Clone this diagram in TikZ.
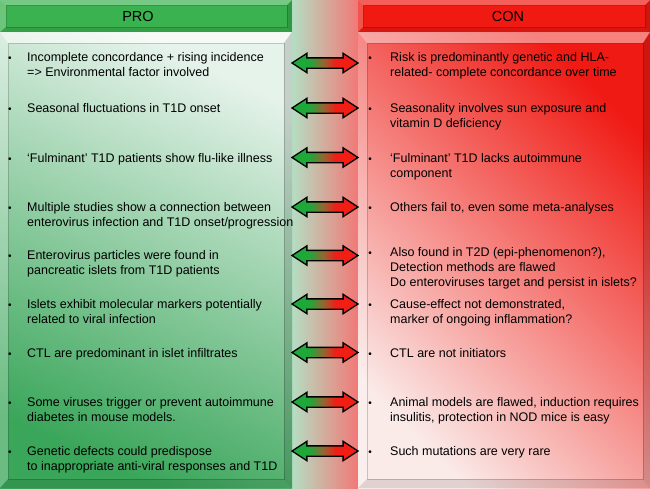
\documentclass[tikz,border=0pt]{standalone}
\usepackage{fontspec}
\setmainfont{Liberation Sans}
\usetikzlibrary{shapes.arrows}
\definecolor{hg}{RGB}{58,178,80}
\definecolor{hr}{RGB}{240,26,18}
\definecolor{lgA}{RGB}{230,243,235}
\definecolor{lgB}{RGB}{58,166,90}
\definecolor{rdA}{RGB}{240,26,20}
\definecolor{rdM}{RGB}{243,84,78}
\definecolor{rdB}{RGB}{250,234,232}
\definecolor{cA}{RGB}{180,222,194}
\definecolor{cM}{RGB}{246,240,238}
\definecolor{cB}{RGB}{242,120,118}
\definecolor{agr}{RGB}{30,168,58}
\definecolor{abr}{RGB}{150,100,50}
\definecolor{ard}{RGB}{240,30,20}
\pgfdeclarehorizontalshading{arrsh}{100bp}{color(0bp)=(agr); color(38bp)=(agr); color(49bp)=(abr); color(58bp)=(ard); color(100bp)=(ard)}
\newcommand\tlines[1]{\vtop{\halign{##\hfil\cr #1\crcr}}}
\newcommand\bevelframe[9]{%
  \fill[white,opacity=#9] (#1,#2) -- (#3,#2) -- (#7,#6) -- (#5,#6) -- cycle;
  \fill[white,opacity=0.25] (#1,#2) -- (#5,#6) -- (#5,#8) -- (#1,#4) -- cycle;
  \fill[black,opacity=0.10] (#1,#4) -- (#5,#8) -- (#7,#8) -- (#3,#4) -- cycle;
  \fill[black,opacity=0.14] (#3,#2) -- (#3,#4) -- (#7,#8) -- (#7,#6) -- cycle;
  \draw[black,opacity=0.18,line width=0.6pt] (#5,#6) rectangle (#7,#8);
}
\begin{document}
\begin{tikzpicture}[x=1pt,y=-1pt,
  tx/.style={anchor=base west, inner sep=0pt, font=\fontsize{12.5}{15}\selectfont, text=black},
  bul/.style={anchor=base, inner sep=0pt, font=\fontsize{10}{15}\selectfont, text=black},
  hd/.style={anchor=base, inner sep=0pt, font=\fontsize{14.5}{17}\selectfont, text=black},
  dbl/.style={double arrow, draw=black, line width=1.3pt, minimum height=66pt,
    inner xsep=0pt, inner ysep=4.5pt, double arrow head extend=4.5pt,
    double arrow tip angle=66, shade, shading=arrsh}]
\useasboundingbox (0,0) rectangle (650,488);
% centre strip
\shade[left color=cA, middle color=cM, right color=cB] (292,0) rectangle (358,488);
% left body
\shade[top color=lgA, bottom color=lgB, shading angle=-25] (0,32) rectangle (292,488);
\bevelframe{0}{32}{292}{488}{8}{43}{284}{479}{0.6}
% right body
\shade[top color=rdA, middle color=rdM, bottom color=rdB, shading angle=-45] (358,32) rectangle (650,488);
\bevelframe{358}{32}{650}{488}{367}{43}{643}{479}{0.45}
% headers
\fill[hg] (0,0) rectangle (292,32);
\bevelframe{0}{0}{292}{32}{6}{5}{287}{27}{0.3}
\fill[hr] (358,0) rectangle (650,32);
\bevelframe{358}{0}{650}{32}{363}{5}{645}{27}{0.3}
\node[hd] (pro) at (138,21) {PRO};
\node[hd] (con) at (508,21) {CON};
% left texts
\node[bul] (lb1) at (10,61.5) {\textbullet};
\node[tx] (l1) at (27,61.5) {\tlines{Incomplete concordance + rising incidence\cr => Environmental factor involved}};
\node[bul] (lb2) at (10,112.5) {\textbullet};
\node[tx] (l2) at (27,112.5) {\tlines{Seasonal fluctuations in T1D onset}};
\node[bul] (lb3) at (10,162) {\textbullet};
\node[tx] (l3) at (27,162) {\tlines{‘Fulminant’ T1D patients show flu-like illness}};
\node[bul] (lb4) at (10,211.5) {\textbullet};
\node[tx] (l4) at (27,211.5) {\tlines{Multiple studies show a connection between\cr enterovirus infection and T1D onset/progression}};
\node[bul] (lb5) at (10,259.5) {\textbullet};
\node[tx] (l5) at (27,259.5) {\tlines{Enterovirus particles were found in\cr pancreatic islets from T1D patients}};
\node[bul] (lb6) at (10,308) {\textbullet};
\node[tx] (l6) at (27,308) {\tlines{Islets exhibit molecular markers potentially\cr related to viral infection}};
\node[bul] (lb7) at (10,357) {\textbullet};
\node[tx] (l7) at (27,357) {\tlines{CTL are predominant in islet infiltrates}};
\node[bul] (lb8) at (10,406.5) {\textbullet};
\node[tx] (l8) at (27,406.5) {\tlines{Some viruses trigger or prevent autoimmune\cr diabetes in mouse models.}};
\node[bul] (lb9) at (10,455.5) {\textbullet};
\node[tx] (l9) at (27,455.5) {\tlines{Genetic defects could predispose\cr to inappropriate anti-viral responses and T1D}};
% right texts
\node[bul] (rb1) at (370,61.5) {\textbullet};
\node[tx] (r1) at (390,61.5) {\tlines{Risk is predominantly genetic and HLA-\cr related- complete concordance over time}};
\node[bul] (rb2) at (370,112.5) {\textbullet};
\node[tx] (r2) at (390,112.5) {\tlines{Seasonality involves sun exposure and\cr vitamin D deficiency}};
\node[bul] (rb3) at (370,162) {\textbullet};
\node[tx] (r3) at (390,162) {\tlines{‘Fulminant’ T1D lacks autoimmune\cr component}};
\node[bul] (rb4) at (370,211.5) {\textbullet};
\node[tx] (r4) at (390,211.5) {\tlines{Others fail to, even some meta-analyses}};
\node[bul] (rb5) at (370,256.5) {\textbullet};
\node[tx] (r5) at (390,256.5) {\tlines{Also found in T2D (epi-phenomenon?),\cr Detection methods are flawed\cr Do enteroviruses target and persist in islets?}};
\node[bul] (rb6) at (370,308) {\textbullet};
\node[tx] (r6) at (390,308) {\tlines{Cause-effect not demonstrated,\cr marker of ongoing inflammation?}};
\node[bul] (rb7) at (370,357) {\textbullet};
\node[tx] (r7) at (390,357) {\tlines{CTL are not initiators}};
\node[bul] (rb8) at (370,406.5) {\textbullet};
\node[tx] (r8) at (390,406.5) {\tlines{Animal models are flawed, induction requires\cr insulitis, protection in NOD mice is easy}};
\node[bul] (rb9) at (370,455.5) {\textbullet};
\node[tx] (r9) at (390,455.5) {\tlines{Such mutations are very rare}};
% double arrows
\node[dbl] (a1) at (325,63) {};
\node[dbl] (a2) at (325,108) {};
\node[dbl] (a3) at (325,157.5) {};
\node[dbl] (a4) at (325,207) {};
\node[dbl] (a5) at (325,255.5) {};
\node[dbl] (a6) at (325,304) {};
\node[dbl] (a7) at (325,352.5) {};
\node[dbl] (a8) at (325,402) {};
\node[dbl] (a9) at (325,451) {};
\end{tikzpicture}
\end{document}
